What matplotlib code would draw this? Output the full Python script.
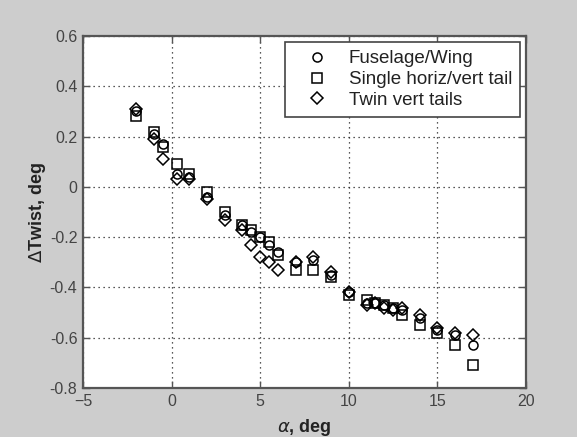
import matplotlib
matplotlib.use("Agg")
import matplotlib.pyplot as plt

plt.rcParams['font.family'] = ['Liberation Sans', 'DejaVu Sans']

# Angle of attack, deg
alpha = [-2, -1, -0.5, 0.3, 1, 2, 3, 4, 4.5, 5, 5.5, 6, 7, 8, 9,
         10, 11, 11.5, 12, 12.5, 13, 14, 15, 16, 17]

# Change in twist, deg
fuselage_wing = [0.30, 0.21, 0.17, 0.05, 0.04, -0.04, -0.11, -0.15, -0.18, -0.20,
                 -0.23, -0.26, -0.30, -0.29, -0.35, -0.42, -0.46, -0.46, -0.47,
                 -0.48, -0.49, -0.52, -0.57, -0.59, -0.63]
single_tail = [0.28, 0.22, 0.16, 0.09, 0.05, -0.02, -0.10, -0.15, -0.17, -0.20,
               -0.22, -0.27, -0.33, -0.33, -0.36, -0.43, -0.45, -0.46, -0.47,
               -0.48, -0.51, -0.55, -0.58, -0.63, -0.71]
twin_tails = [0.31, 0.19, 0.11, 0.03, 0.03, -0.05, -0.13, -0.17, -0.23, -0.28,
              -0.30, -0.33, -0.30, -0.28, -0.34, -0.42, -0.47, -0.46, -0.48,
              -0.49, -0.48, -0.51, -0.56, -0.58, -0.59]

series_labels = ['Fuselage/Wing', 'Single horiz/vert tail', 'Twin vert tails']
x_ticks = [-5, 0, 5, 10, 15, 20]
y_ticks = [-0.8, -0.6, -0.4, -0.2, 0, 0.2, 0.4, 0.6]
y_ticklabels = ['-0.8', '-0.6', '-0.4', '-0.2', '0', '0.2', '0.4', '0.6']

fig = plt.figure(figsize=(5.77, 4.37), dpi=100, facecolor='#cdcdcd')
ax = fig.add_axes([0.1438, 0.1121, 0.7678, 0.8055])
ax.set_facecolor('white')

mk = dict(linestyle='none', markerfacecolor='none', markeredgecolor='black',
          markeredgewidth=1.1, markersize=6.5)
ax.plot(alpha, fuselage_wing, marker='o', label=series_labels[0], **mk)
ax.plot(alpha, single_tail, marker='s', label=series_labels[1], **mk)
ax.plot(alpha, twin_tails, marker='D', label=series_labels[2],
        **{**mk, 'markersize': 6})

ax.set_xlim(-5, 20)
ax.set_ylim(-0.8, 0.6)
ax.set_xticks(x_ticks)
ax.set_yticks(y_ticks)
ax.set_yticklabels(y_ticklabels)
ax.grid(True, color='#222222', linestyle=(0, (1, 3)), linewidth=0.9)
ax.tick_params(direction='in', top=True, right=True, length=5, width=1,
               colors='#555555', labelcolor='#444444', labelsize=11.5, pad=4)
for s in ax.spines.values():
    s.set_color('#555555')
    s.set_linewidth(1.6)

ax.set_xlabel(r'$\alpha$, deg', fontsize=13, fontweight='bold', color='#222222',
              labelpad=6)
ax.set_ylabel(r'$\Delta$Twist, deg', fontsize=13, fontweight='bold', color='#222222',
              labelpad=1)

leg = ax.legend(loc='upper right', fontsize=13.5, frameon=True, fancybox=False,
                edgecolor='#444444', framealpha=1, borderaxespad=0.3,
                handletextpad=0.45, labelspacing=0.2, handlelength=2.5,
                borderpad=0.45)
leg.get_frame().set_linewidth(1.2)
for t in leg.get_texts():
    t.set_color('#222222')

fig.savefig('out.png', dpi=100, facecolor=fig.get_facecolor())
